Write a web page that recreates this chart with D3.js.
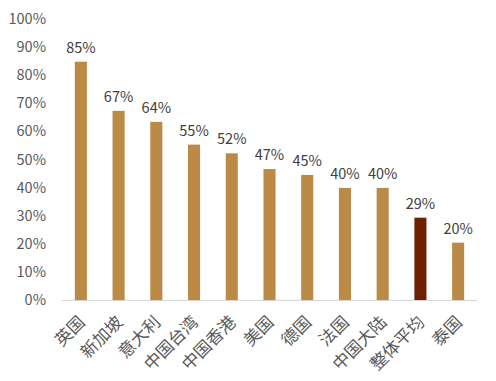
<!DOCTYPE html>
<html><head><meta charset="utf-8">
<script src="https://cdn.jsdelivr.net/npm/d3@7"></script>
<style>body{margin:0;background:#fff}svg{display:block}</style>
</head><body>
<script>
const categories = ["英国","新加坡","意大利","中国台湾","中国香港","美国","德国","法国","中国大陆","整体平均","泰国"];
const values = [0.848,0.673,0.634,0.553,0.522,0.466,0.445,0.399,0.399,0.293,0.204];
const labels = ["85%","67%","64%","55%","52%","47%","45%","40%","40%","29%","20%"];
const highlight = ["整体平均"];
const yTicks = [0,0.1,0.2,0.3,0.4,0.5,0.6,0.7,0.8,0.9,1.0];

const W=496,H=381;
const svg=d3.select("body").append("svg").attr("width",W).attr("height",H);
const x=d3.scaleBand().domain(categories).range([62,477]).paddingInner(0.68).paddingOuter(0.34);
const y=d3.scaleLinear().domain([0,1]).range([300,19]);
const font="'Noto Sans CJK SC','Noto Sans',sans-serif";

// y tick labels
svg.append("g").selectAll("text").data(yTicks).join("text")
  .attr("x",46).attr("y",d=>y(d)).attr("dy","0.35em").attr("text-anchor","end")
  .attr("font-family",font).attr("font-size",14.5).attr("fill","#595959")
  .text(d=>d3.format(".0%")(d));

// bars
svg.append("g").selectAll("rect").data(categories).join("rect")
  .attr("x",d=>x(d)).attr("width",x.bandwidth())
  .attr("y",(d,i)=>y(values[i])).attr("height",(d,i)=>y(0)-y(values[i]))
  .attr("fill",d=>highlight.includes(d)?"#6E1F00":"#BC8A47");

// axis line
svg.append("line").attr("x1",62).attr("x2",477).attr("y1",300.5).attr("y2",300.5)
  .attr("stroke","#D9D9D9").attr("stroke-width",1);

// data labels
svg.append("g").selectAll("text").data(categories).join("text")
  .attr("x",d=>x(d)+x.bandwidth()/2).attr("y",(d,i)=>y(values[i])-9)
  .attr("text-anchor","middle").attr("font-family",font).attr("font-size",14.5).attr("fill","#404040")
  .text((d,i)=>labels[i]);

// category labels
svg.append("g").selectAll("text").data(categories).join("text")
  .attr("transform",d=>`translate(${x(d)+x.bandwidth()/2+1},${319}) rotate(-45)`)
  .attr("text-anchor","end").attr("dy","0.35em")
  .attr("font-family",font).attr("font-size",17).attr("fill","#595959")
  .text(d=>d);
</script>
</body></html>
